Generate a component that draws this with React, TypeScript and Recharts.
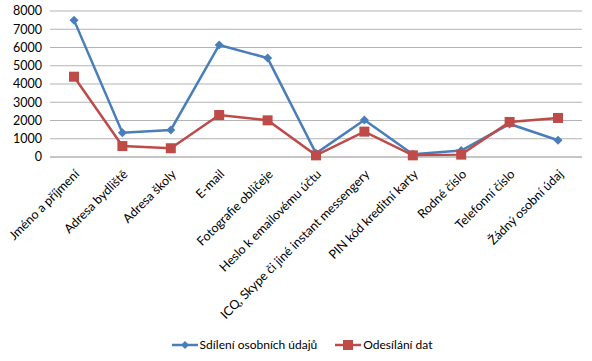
import { CartesianGrid, Legend, Line, LineChart, XAxis, YAxis } from 'recharts';

const categories = [
  'Jméno a příjmení',
  'Adresa bydliště',
  'Adresa školy',
  'E-mail',
  'Fotografie obličeje',
  'Heslo k emailovému účtu',
  'ICQ, Skype či jiné instant messengery',
  'PIN kód kreditní karty',
  'Rodné číslo',
  'Telefonní číslo',
  'Žádný osobní údaj',
];
const sdileni = [7500, 1330, 1480, 6140, 5420, 200, 2030, 150, 350, 1810, 920];
const odesilani = [4400, 600, 480, 2300, 2010, 90, 1390, 90, 130, 1920, 2140];
const yTicks = [0, 1000, 2000, 3000, 4000, 5000, 6000, 7000, 8000];

const BLUE = '#4a7ebb';
const RED = '#be4b48';
const FONT = 'Lato, "Open Sans", sans-serif';

const data = categories.map((name, i) => ({ name, sdileni: sdileni[i], odesilani: odesilani[i] }));

function Diamond(props: any) {
  const { cx, cy, fill } = props;
  if (cx == null || cy == null) return null;
  const r = 4.5;
  return <path d={`M${cx},${cy - r}L${cx + r},${cy}L${cx},${cy + r}L${cx - r},${cy}Z`} fill={fill} />;
}

function Square(props: any) {
  const { cx, cy, fill } = props;
  if (cx == null || cy == null) return null;
  const s = 10;
  return <rect x={cx - s / 2} y={cy - s / 2} width={s} height={s} fill={fill} />;
}

function CatTick(props: any) {
  const { x, y, payload } = props;
  return (
    <text
      transform={`translate(${x + 6},${y + 10}) rotate(-45)`}
      textAnchor="end"
      fontSize={12.5}
      fontFamily={FONT}
      fill="#000"
    >
      {payload.value}
    </text>
  );
}

function LegendBox() {
  const item = (color: string, label: string, square: boolean) => (
    <span style={{ display: 'inline-flex', alignItems: 'center', marginRight: 18 }}>
      <svg width={26} height={12} style={{ marginRight: 2 }}>
        <line x1={0} y1={6} x2={26} y2={6} stroke={color} strokeWidth={2.5} />
        {square ? (
          <rect x={8} y={1} width={10} height={10} fill={color} />
        ) : (
          <path d="M13,2L17,6L13,10L9,6Z" fill={color} />
        )}
      </svg>
      {label}
    </span>
  );
  return (
    <div style={{ textAlign: 'center', fontFamily: FONT, fontSize: 12, color: '#000', paddingLeft: 36 }}>
      {item(BLUE, 'Sdílení osobních údajů', false)}
      {item(RED, 'Odesílání dat', true)}
    </div>
  );
}

export default function App() {
  return (
    <div style={{ position: 'absolute', left: 0, top: 0, width: 592, height: 361, background: '#fff' }}>
      <LineChart width={592} height={361} data={data} margin={{ top: 11, right: 10, bottom: 0, left: 4 }}>
        <CartesianGrid vertical={false} stroke="#b3b3b3" strokeWidth={1} />
        <XAxis
          dataKey="name"
          interval={0}
          height={180}
          padding={{ left: 24, right: 24 }}
          tick={<CatTick />}
          tickLine={false}
          axisLine={{ stroke: '#b3b3b3' }}
        />
        <YAxis
          ticks={yTicks}
          domain={[0, 8000]}
          interval={0}
          width={46}
          tickLine={false}
          axisLine={false}
          tick={{ fontSize: 12.5, fontFamily: FONT, fill: '#000' }}
        />
        <Legend verticalAlign="bottom" height={24} content={<LegendBox />} />
        <Line
          dataKey="sdileni"
          name="Sdílení osobních údajů"
          stroke={BLUE}
          strokeWidth={2.5}
          dot={<Diamond fill={BLUE} />}
          activeDot={false}
          isAnimationActive={false}
        />
        <Line
          dataKey="odesilani"
          name="Odesílání dat"
          stroke={RED}
          strokeWidth={2.5}
          dot={<Square fill={RED} />}
          activeDot={false}
          isAnimationActive={false}
        />
      </LineChart>
    </div>
  );
}
